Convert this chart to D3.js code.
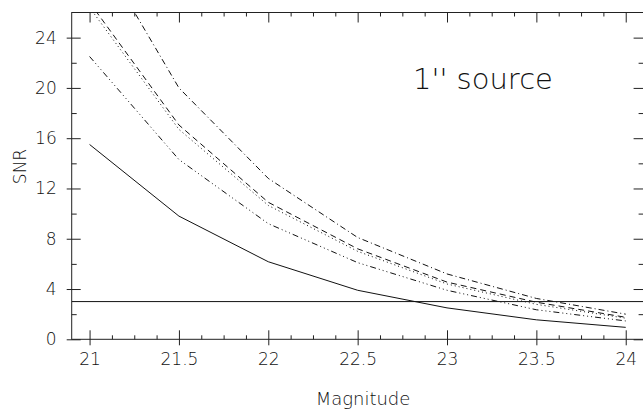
<!DOCTYPE html>
<html>
<head>
<meta charset="utf-8">
<script src="https://cdn.jsdelivr.net/npm/d3@7"></script>
<style>
  body { margin: 0; background: #fff; }
  text { font-family: "DejaVu Sans", sans-serif; font-weight: 200; fill: #111; }
</style>
</head>
<body>
<div id="chart"></div>
<script>
// magnitudes along the x axis
const magnitudes = [21, 21.5, 22, 22.5, 23, 23.5, 24];

// SNR curves
const snrSolid   = [15.5, 9.8, 6.17, 3.9, 2.5, 1.55, 0.95];
const snrDashDot = [32.1, 20.0, 12.8, 8.1, 5.2, 3.25, 2.0];
const snrDashed  = [26.8, 17.05, 10.9, 7.2, 4.55, 2.95, 1.75];
const snrDotted  = [26.4, 16.7, 10.65, 7.0, 4.4, 2.78, 1.68];
const snrDash3Dot = [22.5, 14.3, 9.2, 6.1, 3.9, 2.35, 1.46];

const threshold = 3;

const xMajorTicks = [21, 21.5, 22, 22.5, 23, 23.5, 24];
const yMajorTicks = [0, 4, 8, 12, 16, 20, 24];

const series = [
    {values: snrSolid, dash: null},
    {values: snrDashDot, dash: "6,3,1,3"},
    {values: snrDashed, dash: "6,4"},
    {values: snrDotted, dash: "1,3"},
    {values: snrDash3Dot, dash: "6,3,1,3,1,3,1,3"}
];

const W = 643, H = 409;
const plotLeft = 71.7, plotRight = 643.6, plotTop = 12.5, plotBottom = 339.3;

const svg = d3.select("#chart")
    .append("svg")
    .attr("width", W)
    .attr("height", H);

const x = d3.scaleLinear().domain([20.9, 24.1]).range([plotLeft, plotRight]);
const y = d3.scaleLinear().domain([0, 26]).range([plotBottom, plotTop]);

const xMinor = d3.range(20.875, 24.1, 0.125).filter(v => v > 20.9 && !xMajorTicks.includes(v));
const yMinor = d3.range(2, 26, 4);

// clip for the curves
svg.append("clipPath").attr("id", "plotclip")
    .append("rect")
    .attr("x", plotLeft).attr("y", plotTop)
    .attr("width", plotRight - plotLeft).attr("height", plotBottom - plotTop);

// frame
svg.append("rect")
    .attr("x", plotLeft).attr("y", plotTop)
    .attr("width", plotRight - plotLeft).attr("height", plotBottom - plotTop)
    .attr("fill", "none")
    .attr("stroke", "#222")
    .attr("stroke-width", 1);

function styleAxis(g) {
    g.select(".domain").remove();
    g.selectAll("line").attr("stroke", "#222");
    g.selectAll("text").attr("font-size", 17).attr("fill", "#111");
}

// bottom axis
const gx = svg.append("g")
    .attr("transform", `translate(0,${plotBottom})`)
    .call(d3.axisBottom(x).tickValues(xMajorTicks).tickSize(-9).tickSizeOuter(0)
        .tickPadding(14).tickFormat(d3.format("")))
    .call(styleAxis);
gx.selectAll(".tick line").attr("y1", 6);

svg.append("g")
    .attr("transform", `translate(0,${plotBottom})`)
    .call(d3.axisBottom(x).tickValues(xMinor).tickSize(-4).tickSizeOuter(0).tickFormat(""))
    .call(styleAxis);

// top axis
svg.append("g")
    .attr("transform", `translate(0,${plotTop})`)
    .call(d3.axisTop(x).tickValues(xMajorTicks).tickSize(-10).tickSizeOuter(0).tickFormat(""))
    .call(styleAxis);
svg.append("g")
    .attr("transform", `translate(0,${plotTop})`)
    .call(d3.axisTop(x).tickValues(xMinor).tickSize(-4).tickSizeOuter(0).tickFormat(""))
    .call(styleAxis);

// left axis
const gy = svg.append("g")
    .attr("transform", `translate(${plotLeft},0)`)
    .call(d3.axisLeft(y).tickValues(yMajorTicks).tickSize(-9).tickSizeOuter(0).tickPadding(15))
    .call(styleAxis);
gy.selectAll(".tick line").attr("x1", -5);

svg.append("g")
    .attr("transform", `translate(${plotLeft},0)`)
    .call(d3.axisLeft(y).tickValues(yMinor).tickSize(-5).tickSizeOuter(0).tickFormat(""))
    .call(styleAxis);

// right axis
svg.append("g")
    .attr("transform", `translate(${plotRight},0)`)
    .call(d3.axisRight(y).tickValues(yMajorTicks).tickSize(-10).tickSizeOuter(0).tickFormat(""))
    .call(styleAxis);
svg.append("g")
    .attr("transform", `translate(${plotRight},0)`)
    .call(d3.axisRight(y).tickValues(yMinor).tickSize(-5).tickSizeOuter(0).tickFormat(""))
    .call(styleAxis);

// curves
const line = d3.line()
    .x((d, i) => x(magnitudes[i]))
    .y(d => y(d));

const plot = svg.append("g").attr("clip-path", "url(#plotclip)");

series.forEach(s => {
    plot.append("path")
        .datum(s.values)
        .attr("d", line)
        .attr("fill", "none")
        .attr("stroke", "#111")
        .attr("stroke-width", 1)
        .attr("stroke-dasharray", s.dash);
});

// SNR = 3 threshold
plot.append("line")
    .attr("x1", plotLeft).attr("x2", plotRight)
    .attr("y1", y(threshold)).attr("y2", y(threshold))
    .attr("stroke", "#111")
    .attr("stroke-width", 1);

// annotation
svg.append("text")
    .attr("x", 413)
    .attr("y", 89.3)
    .attr("font-size", 29)
    .style("white-space", "pre")
    .text("1'' source");

// axis labels
svg.append("text")
    .attr("x", 363)
    .attr("y", 404.5)
    .attr("font-size", 18)
    .attr("text-anchor", "middle")
    .text("Magnitude");

svg.append("text")
    .attr("transform", `translate(26,166.5) rotate(-90)`)
    .attr("font-size", 17)
    .attr("text-anchor", "middle")
    .text("SNR");
</script>
</body>
</html>
